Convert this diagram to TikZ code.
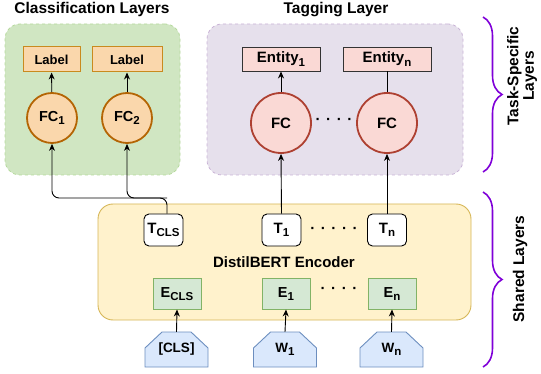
\documentclass[tikz,border=0pt]{standalone}
\usepackage{fontspec}
\setmainfont{Liberation Sans}
\usetikzlibrary{arrows.meta}
\usetikzlibrary{decorations.pathreplacing}
\usepackage{xcolor}

\definecolor{clsfill}{HTML}{D0E6C2}
\definecolor{clsdraw}{HTML}{B5D99C}
\definecolor{tagfill}{HTML}{E6E0EC}
\definecolor{tagdraw}{HTML}{C9B3D6}
\definecolor{lblfill}{HTML}{FAD7AC}
\definecolor{lbldraw}{HTML}{C98A1E}
\definecolor{fcdraw}{HTML}{B46504}
\definecolor{entfill}{HTML}{FAD9D5}
\definecolor{entdraw}{HTML}{AE4132}
\definecolor{encfill}{HTML}{FFF2CC}
\definecolor{encdraw}{HTML}{D6B656}
\definecolor{embfill}{HTML}{D5E8D4}
\definecolor{embdraw}{HTML}{82B366}
\definecolor{inpfill}{HTML}{DAE8FC}
\definecolor{inpdraw}{HTML}{6C8EBF}
\definecolor{brcol}{HTML}{7F00D8}

\newcommand{\fsz}[1]{\fontsize{#1}{#1}\selectfont\bfseries}
\newcommand{\dn}[1]{\raisebox{-0.4ex}{\fontsize{11.5}{11.5}\selectfont #1}}
\newcommand{\dotrow}[1]{\foreach \k in {1,...,#1}{\ifnum\k>1\hspace{5.6pt}\fi\textperiodcentered}}

\tikzset{
    grpbox/.style={draw, dashed, rounded corners=15pt, line width=0.8pt},
    lblbox/.style={draw=lbldraw, fill=lblfill, minimum height=25pt, inner sep=0pt, line width=1pt, font=\fsz{13}},
    fcsmall/.style={circle, draw=fcdraw, fill=lblfill, minimum size=50pt, inner sep=0pt, line width=1.8pt, font=\fsz{14.5}},
    entbox/.style={draw=black!80, fill=entfill, minimum height=24pt, inner sep=0pt, line width=0.9pt, font=\fsz{15}},
    fcbig/.style={circle, draw=entdraw, fill=entfill, minimum size=60pt, inner sep=0pt, line width=1.8pt, font=\fsz{15}},
    tokbox/.style={draw, fill=white, rounded corners=5pt, minimum width=39pt, minimum height=32pt, inner sep=0pt, line width=0.9pt, font=\fsz{15}},
    embbox/.style={draw=embdraw, fill=embfill, minimum width=48pt, minimum height=30pt, inner sep=0pt, line width=1pt, font=\fsz{14.5}},
    inshape/.style={draw=inpdraw, fill=inpfill, line width=0.9pt},
    title/.style={font=\fsz{15.5}, anchor=base},
    arr/.style={-{Stealth[length=7pt,width=6pt]}, line width=0.9pt},
    brc/.style={decorate, decoration={brace, amplitude=19pt}, draw=brcol, line width=1.6pt},
}

\begin{document}
\begin{tikzpicture}[x=1pt, y=-1pt]
    \useasboundingbox (0,0) rectangle (541,374);
    % group boxes
    \node[grpbox, draw=clsdraw, fill=clsfill, minimum width=175pt, minimum height=151pt] at (92.5,99.5) (clsbox) {};
    \node[grpbox, draw=tagdraw, fill=tagfill, minimum width=256pt, minimum height=151pt] at (335,99.5) (tagbox) {};
    \node[draw=encdraw, fill=encfill, rounded corners=15pt, line width=0.9pt, minimum width=373pt, minimum height=116pt] at (284.5,262) (enc) {};
    \node[title] at (92,14) (clstitle) {Classification Layers};
    \node[title] at (336,14) (tagtitle) {Tagging Layer};

    % classification heads
    \node[lblbox, minimum width=57pt] at (51.5,59.5) (lab1) {Label};
    \node[lblbox, minimum width=70pt] at (127,59.5) (lab2) {Label};
    \node[fcsmall] at (52,118) (fc1) {FC\dn{1}};
    \node[fcsmall] at (127,118) (fc2) {FC\dn{2}};

    % tagging heads
    \node[entbox, minimum width=78pt] at (281,59) (ent1) {Entity\dn{1}};
    \node[entbox, minimum width=88pt] at (387,59) (entn) {Entity\dn{n}};
    \node[fcbig] at (281,123) (fct1) {FC};
    \node[fcbig] at (387,123) (fctn) {FC};
    \node[font=\fsz{15}] at (334,121) (fdots) {\dotrow{4}};

    % encoder
    \node[tokbox] at (163.5,230) (tcls) {T\dn{CLS}};
    \node[tokbox] at (281.5,230) (t1) {T\dn{1}};
    \node[tokbox] at (387,230) (tn) {T\dn{n}};
    \node[font=\fsz{15}] at (334,230) (tdots) {\dotrow{5}};
    \node[font=\fsz{15}] at (284,262) (encname) {DistilBERT Encoder};
    \node[embbox] at (177,294) (ecls) {E\dn{CLS}};
    \node[embbox] at (286,294) (e1) {E\dn{1}};
    \node[embbox] at (392,294) (en) {E\dn{n}};
    \node[font=\fsz{15}] at (339,290) (edots) {\dotrow{4}};

    % inputs
    \foreach \x/\nm/\txt in {176.5/wcls/{[CLS]}, 285/w1/{W\dn{1}}, 391.5/wn/{W\dn{n}}} {
        \draw[inshape] (\x-31.5,367) -- (\x-31.5,348) -- (\x-14.5,332) -- (\x+14.5,332) -- (\x+31.5,348) -- (\x+31.5,367) -- cycle;
        \node[minimum height=35pt, inner sep=0pt, font=\fsz{13.5}] at (\x,349.5) (\nm) {\txt};
    }

    % connectors
    \draw[arr] (wcls.north) -- (ecls.south);
    \draw[arr] (w1.north) -- (e1.south);
    \draw[arr] (wn.north) -- (en.south);
    \coordinate (jn) at (167,198);
    \draw[arr, rounded corners=7pt] ([xshift=3.5pt]tcls.north) -- (jn) -| (fc1.south);
    \draw[arr, rounded corners=7pt] (jn) -| (fc2.south);
    \draw[arr] (fc1) -- (lab1);
    \draw[arr] (fc2) -- (lab2);
    \draw[arr] (t1.north) -- (fct1.south);
    \draw[arr] (tn.north) -- (fctn.south);
    \draw[arr] (fct1) -- (ent1);
    \draw[line width=0.9pt] (fctn) -- (entn);

    % braces
    \coordinate (tsa) at (483,17);
    \coordinate (tsb) at (483,172);
    \coordinate (sha) at (483,192);
    \coordinate (shb) at (483,367);
    \draw[brc] (tsa) -- (tsb);
    \draw[brc] (sha) -- (shb);
    \node[font=\fsz{15.5}, rotate=90, align=center] at (522,76) (tasklbl) {Task-Specific\\Layers};
    \node[font=\fsz{15.5}, rotate=90] at (520,269) (sharedlbl) {Shared Layers};
\end{tikzpicture}
\end{document}
